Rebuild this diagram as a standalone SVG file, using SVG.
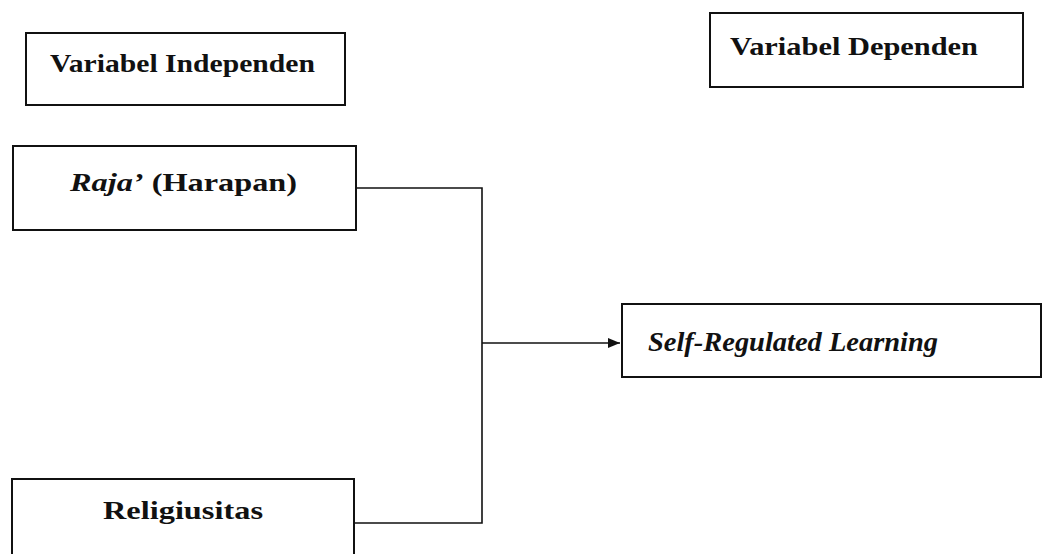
<svg xmlns="http://www.w3.org/2000/svg" width="1043" height="554" viewBox="0 0 1043 554">
<style>
.box{fill:#fff;stroke:#111;stroke-width:2}
.t{font-family:"Liberation Serif","DejaVu Serif",serif;font-weight:bold;font-size:25px;fill:#111}
.i{font-style:italic}
.big{font-size:27px}
.c{fill:none;stroke:#111;stroke-width:1.6}
</style>
<defs>
<marker id="ah" viewBox="0 0 12 12" refX="12" refY="6" markerWidth="12" markerHeight="12" markerUnits="userSpaceOnUse" orient="auto">
<path d="M0,1 L12,6 L0,11 z" fill="#111"/>
</marker>
</defs>
<rect width="1043" height="554" fill="#fff"/>
<g id="connectors">
<polyline class="c" points="356,188 482,188 482,523 354,523"/>
<line class="c" x1="482" y1="343" x2="620" y2="343" marker-end="url(#ah)"/>
</g>
<g id="var-independen">
<rect class="box" x="26" y="33" width="319" height="72"/>
<text class="t" x="50" y="72" textLength="265" lengthAdjust="spacingAndGlyphs">Variabel Independen</text>
</g>
<g id="var-dependen">
<rect class="box" x="710" y="13" width="313" height="74"/>
<text class="t" x="730" y="55" textLength="248" lengthAdjust="spacingAndGlyphs">Variabel Dependen</text>
</g>
<g id="raja">
<rect class="box" x="13" y="146" width="343" height="84"/>
<text class="t" x="70" y="191" textLength="227" lengthAdjust="spacingAndGlyphs"><tspan class="i">Raja’</tspan> (Harapan)</text>
</g>
<g id="srl">
<rect class="box" x="622" y="304" width="419" height="73"/>
<text class="t i big" x="648" y="351" textLength="290" lengthAdjust="spacingAndGlyphs">Self-Regulated Learning</text>
</g>
<g id="religiusitas">
<rect class="box" x="12" y="479" width="342" height="90"/>
<text class="t" x="103" y="519" textLength="160" lengthAdjust="spacingAndGlyphs">Religiusitas</text>
</g>
</svg>
